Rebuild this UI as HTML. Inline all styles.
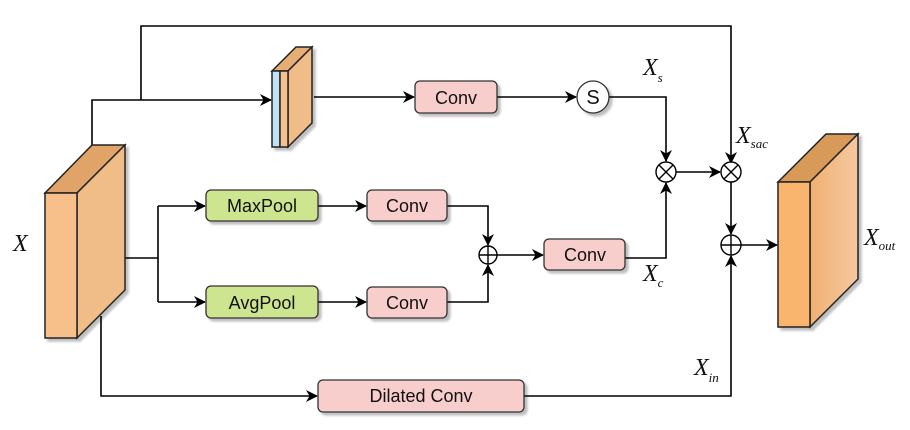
<!DOCTYPE html>
<html><head><meta charset="utf-8"><style>body{margin:0;background:#fff}svg{display:block}</style></head><body>
<svg width="910" height="430" viewBox="0 0 910 430" xmlns="http://www.w3.org/2000/svg">
<defs>
<marker id="a" markerWidth="12" markerHeight="12" refX="11" refY="6" orient="auto" markerUnits="userSpaceOnUse"><path d="M0,0 L12,6 L0,12 L3.5,6 z" fill="#000"/></marker>
<filter id="s" x="-20%" y="-20%" width="150%" height="150%"><feDropShadow dx="3" dy="3" stdDeviation="1" flood-color="#000" flood-opacity="0.25"/></filter>
<linearGradient id="g" x1="0" x2="1"><stop offset="0" stop-color="#f0b070"/><stop offset="1" stop-color="#f5c8a0"/></linearGradient>
</defs>
<g fill="none" stroke="#000" stroke-width="1.6">
<path d="M141,100 V26 H731 V163" marker-end="url(#a)"/>
<path d="M92,153 V100 H271" marker-end="url(#a)"/>
<path d="M314,97 H414" marker-end="url(#a)"/>
<path d="M497,97 H576" marker-end="url(#a)"/>
<path d="M609,97 H666 V161" marker-end="url(#a)"/>
<path d="M676,172 H720" marker-end="url(#a)"/>
<path d="M731,182 V234" marker-end="url(#a)"/>
<path d="M741,245 H777" marker-end="url(#a)"/>
<path d="M118,258 H158 M158,206 V302"/>
<path d="M158,206 H205" marker-end="url(#a)"/>
<path d="M158,302 H205" marker-end="url(#a)"/>
<path d="M318,206 H366" marker-end="url(#a)"/>
<path d="M318,302 H366" marker-end="url(#a)"/>
<path d="M447,206 H488 V245" marker-end="url(#a)"/>
<path d="M447,302 H488 V265" marker-end="url(#a)"/>
<path d="M497,255 H543" marker-end="url(#a)"/>
<path d="M625,258 H666 V183" marker-end="url(#a)"/>
<path d="M101,316 V396 H317" marker-end="url(#a)"/>
<path d="M524,396 H731 V256" marker-end="url(#a)"/>
</g>
<g stroke="#222" stroke-width="1.5" filter="url(#s)">
<path d="M45,193 L92,145 L125,145 L77,193 Z" fill="#e0a468"/>
<path d="M77,193 L125,145 L125,290 L77,338 Z" fill="#f0bd88"/>
<rect x="45" y="193" width="32" height="145" fill="#f7c08a"/>
<path d="M272,71 L296,47 L312,47 L288,71 Z" fill="#e6ae74"/>
<path d="M288,71 L312,47 L312,123 L288,147 Z" fill="#f0bd88"/>
<rect x="272" y="71" width="8" height="76" fill="#bfe0f7"/>
<rect x="280" y="71" width="8" height="76" fill="#f4c08c"/>
<path d="M778,182 L826,134 L858,134 L810,182 Z" fill="#d89a58"/>
<path d="M810,182 L858,134 L858,279 L810,327 Z" fill="url(#g)"/>
<rect x="778" y="182" width="32" height="145" fill="#f9b46e"/>
</g>
<g stroke="#333" stroke-width="1.3" filter="url(#s)">
<rect x="415" y="81" width="82" height="32" rx="5" fill="#f8cecc"/>
<rect x="206" y="190" width="112" height="31" rx="5" fill="#cde58f"/>
<rect x="206" y="286" width="112" height="32" rx="5" fill="#cde58f"/>
<rect x="367" y="190" width="80" height="31" rx="5" fill="#f8cecc"/>
<rect x="367" y="287" width="80" height="31" rx="5" fill="#f8cecc"/>
<rect x="544" y="239" width="81" height="31" rx="5" fill="#f8cecc"/>
<rect x="318" y="380" width="206" height="32" rx="5" fill="#f8cecc"/>
<circle cx="593" cy="97" r="16" fill="#fff"/>
</g>
<g font-family="Liberation Sans, sans-serif" font-size="18" text-anchor="middle" fill="#111">
<text x="456" y="104">Conv</text>
<text x="262" y="212">MaxPool</text>
<text x="262" y="309">AvgPool</text>
<text x="407" y="212">Conv</text>
<text x="407" y="309">Conv</text>
<text x="585" y="261">Conv</text>
<text x="421" y="402">Dilated Conv</text>
<text x="593" y="104" font-size="20">S</text>
</g>
<g fill="#fff" stroke="#000" stroke-width="1.4">
<circle cx="666" cy="172" r="10"/><path d="M659,165 L673,179 M673,165 L659,179"/>
<circle cx="731" cy="172" r="10"/><path d="M724,165 L738,179 M738,165 L724,179"/>
<circle cx="488" cy="255" r="9"/><path d="M479,255 H497 M488,246 V264"/>
<circle cx="731" cy="245" r="10"/><path d="M721,245 H741 M731,235 V255"/>
</g>
<g font-family="Liberation Serif, serif" font-style="italic" fill="#111">
<text x="13" y="251" font-size="24">X</text>
<text x="643" y="75" font-size="24">X<tspan font-size="13" dy="7">s</tspan></text>
<text x="736" y="143" font-size="24">X<tspan font-size="13" dy="5">sac</tspan></text>
<text x="643" y="281" font-size="24">X<tspan font-size="13" dy="6">c</tspan></text>
<text x="694" y="375" font-size="24">X<tspan font-size="13" dy="7">in</tspan></text>
<text x="864" y="245" font-size="24">X<tspan font-size="13" dy="5">out</tspan></text>
</g>
</svg>
</body></html>
